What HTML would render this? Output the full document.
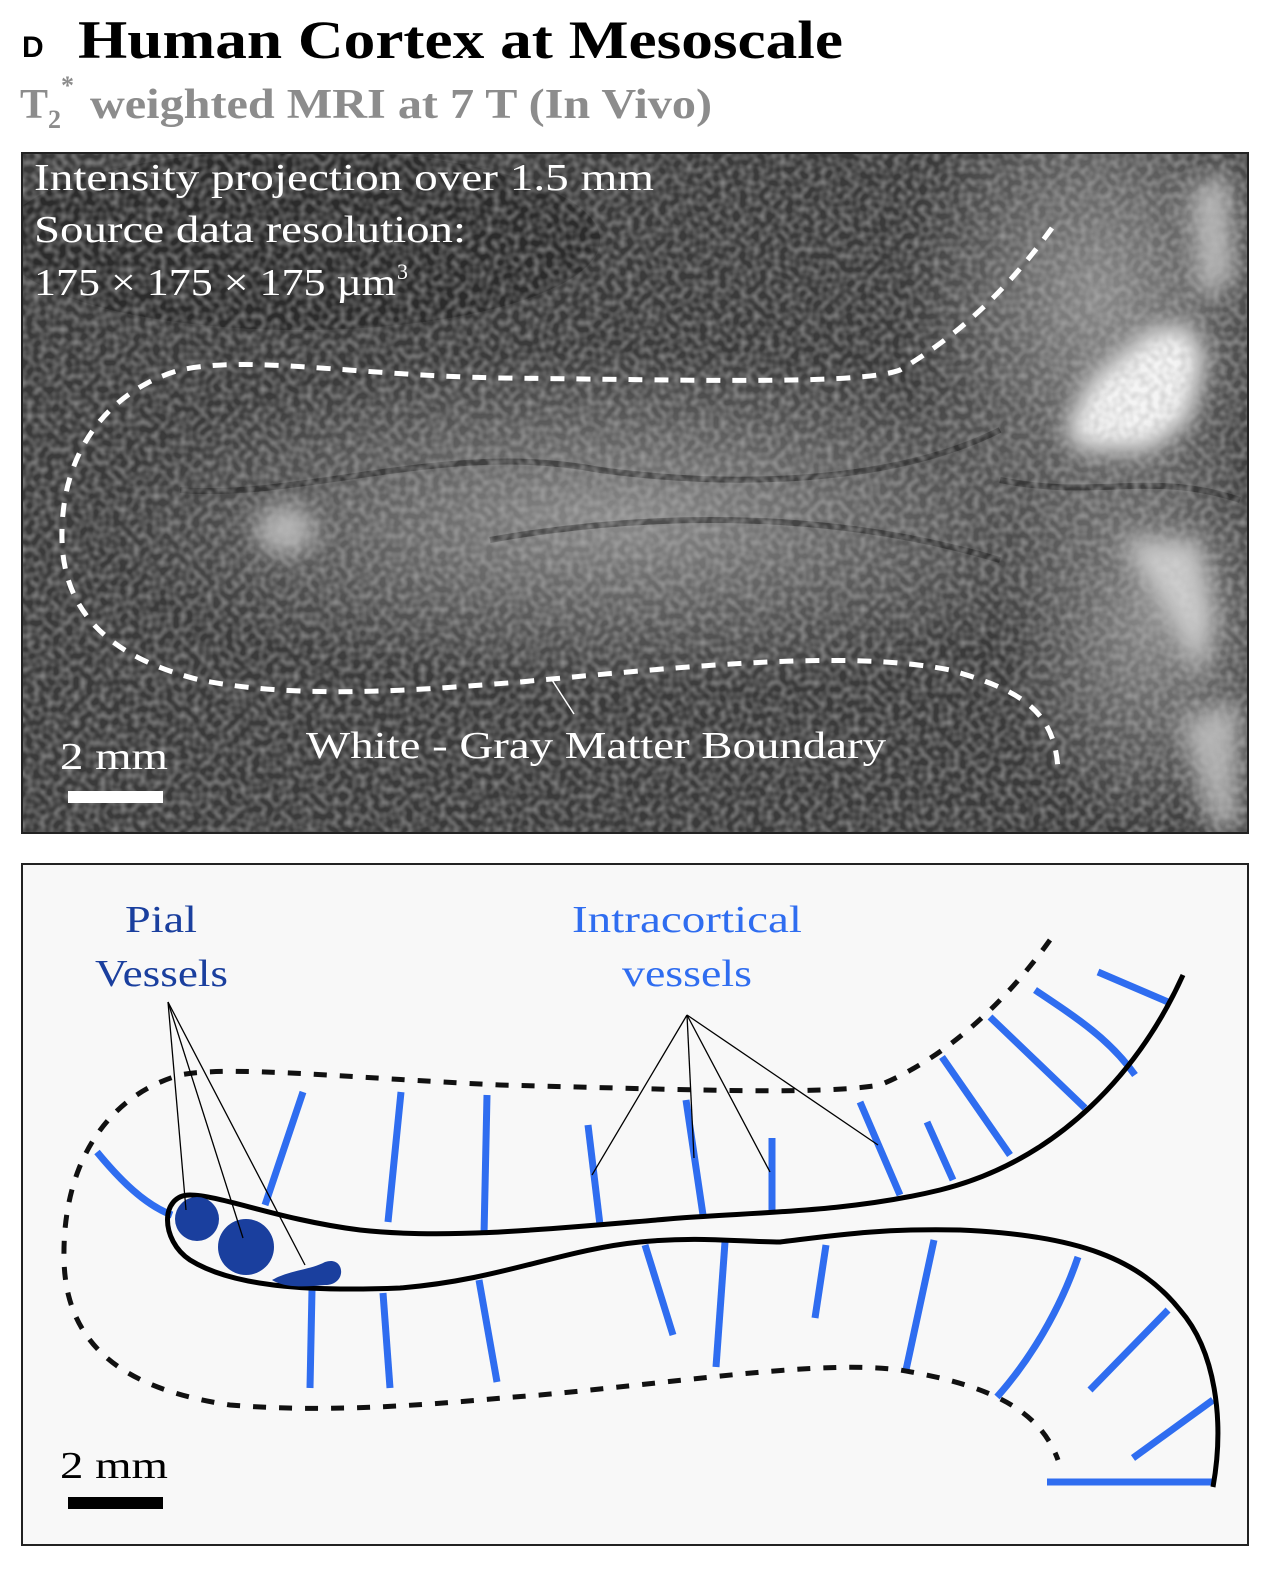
<!DOCTYPE html>
<html><head><meta charset="utf-8"><style>
body{margin:0;background:#fff;width:1272px;height:1568px;overflow:hidden;font-family:"Liberation Serif",serif}
</style></head><body>
<svg width="1272" height="1568" viewBox="0 0 1272 1568" xmlns="http://www.w3.org/2000/svg" font-family="Liberation Serif, serif">
<defs>
<filter id="n" x="0" y="0" width="100%" height="100%">
<feTurbulence type="fractalNoise" baseFrequency="0.15" numOctaves="1" seed="3"/>
<feColorMatrix type="matrix" values="0 0 0 0 0.5  0 0 0 0 0.5  0 0 0 0 0.5  0 0 0 1.8 -0.6"/>
</filter>
<filter id="b"><feGaussianBlur stdDeviation="12"/></filter>
<clipPath id="c1"><rect x="22" y="153" width="1226" height="680"/></clipPath>
<radialGradient id="g1" cx="0.5" cy="0.5" r="0.5"><stop offset="0" stop-color="#8a8a8a"/><stop offset="1" stop-color="#8a8a8a" stop-opacity="0"/></radialGradient>
</defs>
<text x="22" y="57" font-family="Liberation Sans, sans-serif" font-weight="bold" font-size="30">D</text>
<text x="78" y="58" font-weight="bold" font-size="54" textLength="765" lengthAdjust="spacingAndGlyphs">Human Cortex at Mesoscale</text>
<text x="20" y="118" font-weight="bold" font-size="42" fill="#8c8c8c">T<tspan font-size="26" dy="10">2</tspan><tspan font-size="26" dy="-34">*</tspan></text>
<text x="90" y="118" font-weight="bold" font-size="42" fill="#8c8c8c" textLength="622" lengthAdjust="spacingAndGlyphs">weighted MRI at 7 T (In Vivo)</text>

<!-- panel 1 -->
<g clip-path="url(#c1)">
<rect x="22" y="153" width="1226" height="680" fill="#3a3a3a"/>
<ellipse cx="300" cy="240" rx="300" ry="90" fill="#222" opacity="0.6"/>
<ellipse cx="620" cy="520" rx="520" ry="170" fill="url(#g1)"/>
<ellipse cx="1100" cy="300" rx="200" ry="260" fill="url(#g1)"/>
<ellipse cx="1150" cy="620" rx="150" ry="220" fill="url(#g1)"/>
<g filter="url(#b)" fill="#f4f4f4">
<path d="M1065 430 L1090 380 L1150 330 L1190 325 L1205 360 L1190 420 L1150 450 L1080 450Z"/>
<path d="M1120 540 L1200 540 L1215 620 L1200 680 L1160 600Z" opacity="0.7"/>
<path d="M1190 190 L1230 170 L1235 280 L1200 300Z" opacity="0.6"/>
<ellipse cx="285" cy="530" rx="30" ry="25" opacity="0.6"/>
<path d="M1180 720 L1240 700 L1240 830 L1210 830Z" opacity="0.6"/>
</g>
<g stroke="#1a1a1a" stroke-width="6" fill="none" opacity="0.5">
<path d="M180 490 C300 500 450 440 600 470 C750 490 900 480 1000 430"/>
<path d="M490 540 C600 520 800 500 1000 560"/>
<path d="M1000 480 C1100 500 1150 470 1240 500"/>
</g>
<rect x="22" y="153" width="1226" height="680" filter="url(#n)" opacity="0.6"/>
</g>
<path d="M1052 228 C1000 300 950 340 900 370 C860 385 700 380 500 378 C350 375 250 355 180 370 C110 390 60 450 62 540 C64 620 120 660 200 680 C300 700 420 690 520 682 C700 665 850 650 950 670 C1020 690 1055 710 1058 770" fill="none" stroke="#fff" stroke-width="5" stroke-dasharray="14 12"/>
<line x1="552" y1="680" x2="574" y2="714" stroke="#fff" stroke-width="1.5"/>
<g fill="#fff" font-size="38">
<text x="34" y="190" textLength="620" lengthAdjust="spacingAndGlyphs">Intensity projection  over 1.5 mm</text>
<text x="34" y="242" textLength="432" lengthAdjust="spacingAndGlyphs">Source data resolution:</text>
<text x="34" y="295" textLength="362" lengthAdjust="spacingAndGlyphs">175 × 175 × 175 µm</text>
<text x="397" y="279" font-size="22">3</text>
<text x="306" y="758" textLength="580" lengthAdjust="spacingAndGlyphs">White - Gray Matter Boundary</text>
<text x="60" y="769" textLength="108" lengthAdjust="spacingAndGlyphs">2 mm</text>
</g>
<rect x="68" y="791" width="95" height="12" fill="#fff"/>
<rect x="22" y="153" width="1226" height="680" fill="none" stroke="#222" stroke-width="2"/>

<!-- panel 2 -->
<rect x="22" y="864" width="1226" height="681" fill="#f8f8f8" stroke="#222" stroke-width="2"/>
<g stroke="#2f6df0" stroke-width="7" fill="none">
<path d="M97 1152 C120 1180 145 1205 172 1215"/>
<line x1="303" y1="1092" x2="265" y2="1205"/>
<line x1="401" y1="1092" x2="388" y2="1222"/>
<line x1="487" y1="1095" x2="484" y2="1235"/>
<line x1="588" y1="1125" x2="600" y2="1225"/>
<line x1="686" y1="1100" x2="703" y2="1215"/>
<line x1="772" y1="1138" x2="772" y2="1210"/>
<line x1="860" y1="1102" x2="900" y2="1195"/>
<line x1="927" y1="1122" x2="953" y2="1180"/>
<line x1="942" y1="1057" x2="1010" y2="1155"/>
<line x1="990" y1="1017" x2="1085" y2="1108"/>
<path d="M1035 990 C1080 1020 1110 1040 1135 1075"/>
<line x1="1098" y1="972" x2="1168" y2="1002"/>
<line x1="312" y1="1290" x2="310" y2="1388"/>
<line x1="383" y1="1293" x2="390" y2="1388"/>
<line x1="479" y1="1280" x2="497" y2="1382"/>
<line x1="645" y1="1245" x2="673" y2="1335"/>
<line x1="725" y1="1242" x2="716" y2="1367"/>
<line x1="826" y1="1245" x2="815" y2="1318"/>
<line x1="934" y1="1240" x2="906" y2="1370"/>
<path d="M1078 1257 C1060 1310 1030 1360 997 1397"/>
<line x1="1168" y1="1310" x2="1090" y2="1390"/>
<line x1="1213" y1="1400" x2="1133" y2="1458"/>
<line x1="1047" y1="1482" x2="1214" y2="1482"/>
</g>
<path d="M1050 940 C1000 1010 940 1060 880 1085 C820 1095 700 1090 500 1085 C350 1078 230 1065 180 1075 C110 1095 62 1160 64 1260 C66 1350 130 1390 230 1405 C350 1415 470 1400 540 1395 C700 1380 820 1360 900 1370 C990 1385 1040 1410 1058 1460" fill="none" stroke="#111" stroke-width="5" stroke-dasharray="13 13"/>
<path d="M1183 975 C1140 1070 1060 1160 940 1190 C850 1212 760 1212 680 1218 C560 1228 450 1240 360 1230 C280 1220 220 1195 190 1195 C160 1195 160 1240 190 1260 C230 1285 300 1292 400 1288 C500 1280 560 1250 640 1242 C700 1236 740 1242 780 1242 C830 1236 880 1228 960 1230 C1080 1235 1140 1260 1180 1310 C1215 1350 1225 1420 1213 1487" fill="none" stroke="#000" stroke-width="5"/>
<g fill="#1a3f9e">
<circle cx="197" cy="1219" r="22"/>
<circle cx="246" cy="1247" r="28"/>
<path d="M272 1280 C290 1270 310 1270 325 1262 C345 1255 348 1285 325 1285 C305 1287 285 1288 272 1280Z"/>
</g>
<g stroke="#000" stroke-width="1.3">
<line x1="168" y1="1002" x2="186" y2="1210"/>
<line x1="168" y1="1002" x2="243" y2="1238"/>
<line x1="168" y1="1002" x2="305" y2="1265"/>
<line x1="687" y1="1015" x2="592" y2="1175"/>
<line x1="687" y1="1015" x2="694" y2="1158"/>
<line x1="687" y1="1015" x2="770" y2="1172"/>
<line x1="687" y1="1015" x2="878" y2="1145"/>
</g>
<g font-size="38">
<text x="125" y="932" fill="#1a3f9e" textLength="72" lengthAdjust="spacingAndGlyphs">Pial</text>
<text x="95" y="986" fill="#1a3f9e" textLength="133" lengthAdjust="spacingAndGlyphs">Vessels</text>
<text x="572" y="932" fill="#2f6df0" textLength="230" lengthAdjust="spacingAndGlyphs">Intracortical</text>
<text x="622" y="986" fill="#2f6df0" textLength="130" lengthAdjust="spacingAndGlyphs">vessels</text>
</g>
<text x="60" y="1478" font-size="38" textLength="108" lengthAdjust="spacingAndGlyphs">2 mm</text>
<rect x="68" y="1497" width="95" height="12" fill="#000"/>
</svg>
</body></html>
